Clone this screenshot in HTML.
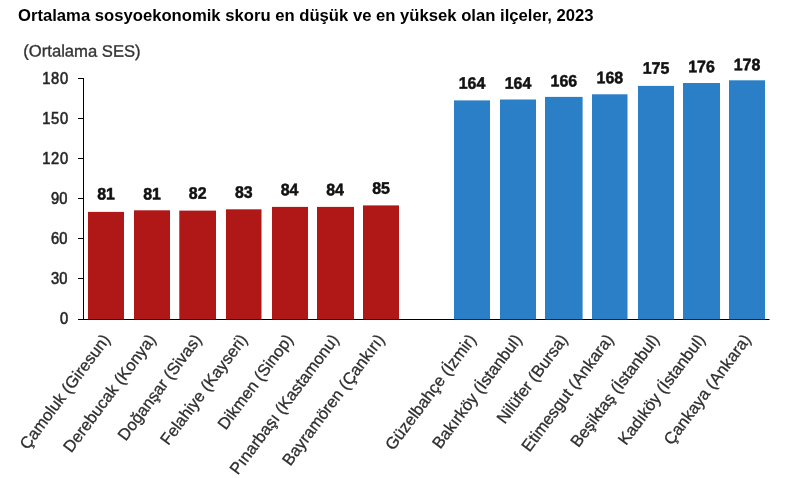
<!DOCTYPE html>
<html lang="tr"><head><meta charset="utf-8"><title>Ortalama sosyoekonomik skoru en düşük ve en yüksek olan ilçeler, 2023</title>
<style>
html,body{margin:0;padding:0;background:#fff;}
body{width:801px;height:478px;overflow:hidden;font-family:"Liberation Sans",Arial,sans-serif;}
svg{display:block;}
text{font-family:"Liberation Sans",Arial,sans-serif;}
.t{font-weight:bold;font-size:16px;fill:#000;}
.u{font-size:16.6px;fill:#333;stroke:#333;stroke-width:.35px;}
.y{font-size:16.3px;fill:#262626;stroke:#262626;stroke-width:.6px;text-anchor:end;}
.v{font-size:16.6px;font-weight:bold;fill:#111;stroke:#111;stroke-width:.5px;text-anchor:middle;}
.c{font-size:16.5px;fill:#2e2e2e;stroke:#2e2e2e;stroke-width:.3px;text-anchor:end;}
</style></head><body>
<svg width="801" height="478" viewBox="0 0 801 478">
<rect width="801" height="478" fill="#ffffff"/>
<text class="t" x="18" y="20.7" textLength="575.5" lengthAdjust="spacingAndGlyphs">Ortalama sosyoekonomik skoru en düşük ve en yüksek olan ilçeler, 2023</text>
<text class="u" transform="translate(23.3,56.6) rotate(.03)" textLength="117.3" lengthAdjust="spacingAndGlyphs">(Ortalama SES)</text>
<rect x="83" y="78" width="1" height="242" fill="#000"/>
<rect x="78" y="319" width="691.5" height="1" fill="#000"/>
<text class="y" transform="translate(68.10,324.0) scale(0.9,1)">0</text>
<rect x="78" y="278" width="6" height="1" fill="#000"/>
<text class="y" transform="translate(67.4,284.0) scale(0.9,1)">30</text>
<rect x="78" y="238" width="6" height="1" fill="#000"/>
<text class="y" transform="translate(67.4,244.0) scale(0.9,1)">60</text>
<rect x="78" y="198" width="6" height="1" fill="#000"/>
<text class="y" transform="translate(67.4,204.0) scale(0.9,1)">90</text>
<rect x="78" y="158" width="6" height="1" fill="#000"/>
<text class="y" style="letter-spacing:.83px" transform="translate(68.85,164.0) scale(0.9,1)">120</text>
<rect x="78" y="118" width="6" height="1" fill="#000"/>
<text class="y" style="letter-spacing:.83px" transform="translate(68.85,124.0) scale(0.9,1)">150</text>
<rect x="78" y="78" width="6" height="1" fill="#000"/>
<text class="y" style="letter-spacing:.83px" transform="translate(68.85,84.0) scale(0.9,1)">180</text>
<rect x="88" y="211.9" width="36.0" height="107.1" fill="#b01717"/>
<rect x="88" y="319" width="36.0" height="1" fill="#4a0606"/>
<text class="v" transform="translate(106.0,199.55) scale(0.96,1) rotate(.05)">81</text>
<text class="c" transform="translate(110.7,339.6) rotate(-53.2)">Çamoluk (Giresun)</text>
<rect x="134" y="210.3" width="36.0" height="108.7" fill="#b01717"/>
<rect x="134" y="319" width="36.0" height="1" fill="#4a0606"/>
<text class="v" transform="translate(152.0,199.55) scale(0.96,1) rotate(.05)">81</text>
<text class="c" transform="translate(156.5,339.6) rotate(-53.2)">Derebucak (Konya)</text>
<rect x="179.3" y="210.6" width="36.7" height="108.4" fill="#b01717"/>
<rect x="179.3" y="319" width="36.7" height="1" fill="#4a0606"/>
<text class="v" transform="translate(197.7,198.65) scale(0.96,1) rotate(.05)">82</text>
<text class="c" transform="translate(202.2,339.6) rotate(-53.2)">Doğanşar (Sivas)</text>
<rect x="226" y="209.3" width="35.5" height="109.7" fill="#b01717"/>
<rect x="226" y="319" width="35.5" height="1" fill="#4a0606"/>
<text class="v" transform="translate(243.8,197.65) scale(0.96,1) rotate(.05)">83</text>
<text class="c" transform="translate(248.0,339.6) rotate(-53.2)">Felahiye (Kayseri)</text>
<rect x="272" y="206.9" width="36.0" height="112.1" fill="#b01717"/>
<rect x="272" y="319" width="36.0" height="1" fill="#4a0606"/>
<text class="v" transform="translate(289.5,195.35) scale(0.96,1) rotate(.05)">84</text>
<text class="c" transform="translate(293.8,339.6) rotate(-53.2)">Dikmen (Sinop)</text>
<rect x="317" y="206.9" width="37.0" height="112.1" fill="#b01717"/>
<rect x="317" y="319" width="37.0" height="1" fill="#4a0606"/>
<text class="v" transform="translate(335.0,195.35) scale(0.96,1) rotate(.05)">84</text>
<text class="c" transform="translate(339.5,339.6) rotate(-53.2)">Pınarbaşı (Kastamonu)</text>
<rect x="363" y="205.4" width="36.0" height="113.6" fill="#b01717"/>
<rect x="363" y="319" width="36.0" height="1" fill="#4a0606"/>
<text class="v" transform="translate(381.0,193.75) scale(0.96,1) rotate(.05)">85</text>
<text class="c" transform="translate(385.3,339.6) rotate(-53.2)">Bayramören (Çankırı)</text>
<rect x="454" y="100.4" width="36.0" height="218.6" fill="#2a7fc6"/>
<rect x="454" y="319" width="36.0" height="1" fill="#0b2a4d"/>
<text class="v" transform="translate(472.0,88.65) scale(0.96,1) rotate(.05)">164</text>
<text class="c" transform="translate(476.8,339.6) rotate(-53.2)">Güzelbahçe (İzmir)</text>
<rect x="500" y="99.5" width="36.0" height="219.5" fill="#2a7fc6"/>
<rect x="500" y="319" width="36.0" height="1" fill="#0b2a4d"/>
<text class="v" transform="translate(518.0,88.65) scale(0.96,1) rotate(.05)">164</text>
<text class="c" transform="translate(522.6,339.6) rotate(-53.2)">Bakırköy (İstanbul)</text>
<rect x="545" y="96.9" width="37.6" height="222.1" fill="#2a7fc6"/>
<rect x="545" y="319" width="37.6" height="1" fill="#0b2a4d"/>
<text class="v" transform="translate(563.8,86.45) scale(0.96,1) rotate(.05)">166</text>
<text class="c" transform="translate(568.4,339.6) rotate(-53.2)">Nilüfer (Bursa)</text>
<rect x="592" y="94.3" width="35.5" height="224.7" fill="#2a7fc6"/>
<rect x="592" y="319" width="35.5" height="1" fill="#0b2a4d"/>
<text class="v" transform="translate(609.8,83.35) scale(0.96,1) rotate(.05)">168</text>
<text class="c" transform="translate(614.2,339.6) rotate(-53.2)">Etimesgut (Ankara)</text>
<rect x="638" y="85.9" width="36.0" height="233.1" fill="#2a7fc6"/>
<rect x="638" y="319" width="36.0" height="1" fill="#0b2a4d"/>
<text class="v" transform="translate(656.0,73.65) scale(0.96,1) rotate(.05)">175</text>
<text class="c" transform="translate(659.9,339.6) rotate(-53.2)">Beşiktaş (İstanbul)</text>
<rect x="683" y="83.0" width="37.0" height="236.0" fill="#2a7fc6"/>
<rect x="683" y="319" width="37.0" height="1" fill="#0b2a4d"/>
<text class="v" transform="translate(701.5,72.35) scale(0.96,1) rotate(.05)">176</text>
<text class="c" transform="translate(705.7,339.6) rotate(-53.2)">Kadıköy (İstanbul)</text>
<rect x="729" y="80.3" width="36.0" height="238.7" fill="#2a7fc6"/>
<rect x="729" y="319" width="36.0" height="1" fill="#0b2a4d"/>
<text class="v" transform="translate(747.0,70.35) scale(0.96,1) rotate(.05)">178</text>
<text class="c" transform="translate(751.5,339.6) rotate(-53.2)">Çankaya (Ankara)</text>
</svg>
</body></html>
